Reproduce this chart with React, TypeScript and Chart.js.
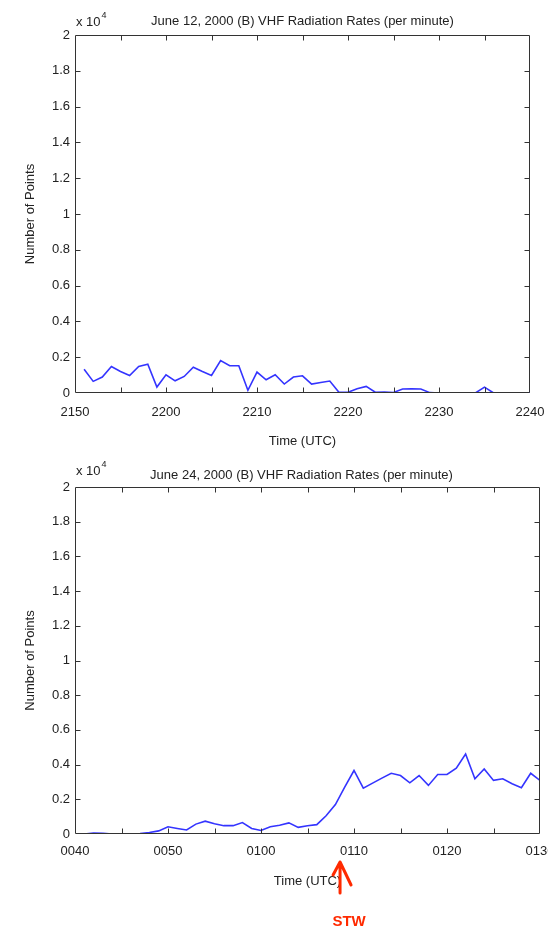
import React, { useEffect, useRef } from "react";
import { Chart, registerables } from "chart.js";

Chart.register(...registerables);

// ---------- data ----------
const TOP_TITLE = "June 12, 2000 (B) VHF Radiation Rates (per minute)";
const BOTTOM_TITLE = "June 24, 2000 (B) VHF Radiation Rates (per minute)";
const Y_TITLE = "Number of Points";
const X_TITLE = "Time (UTC)";
const Y_SCALE_TEXT = "x 10";
const Y_SCALE_EXP = "4";

// axis ranges in minutes since midnight (21:50 -> 22:40, 00:40 -> 01:30)
const TOP_START = 1310;
const TOP_END = 1360;
const BOTTOM_START = 40;
const BOTTOM_END = 90;
const Y_MAX = 20000;
const Y_STEP = 2000;
const X_STEP = 5;
const X_LABEL_EVERY = 10;

// per-minute samples, first sample one minute after the axis start
const TOP_VALUES = [
  1330, 650, 890, 1480, 1200, 980, 1480, 1610, 330, 1020,
  680, 925, 1440, 1200, 980, 1810, 1520, 1520, 150, 1170,
  740, 1020, 500, 890, 960, 500, 590, 670, 40, 40,
  240, 370, 40, 55, 30, 220, 230, 220, 20, 0,
  0, 0, 0, 0, 330, 0, 0, 0, 0, 0,
];
const BOTTOM_VALUES = [
  0, 60, 40, 0, 0, 0, 20, 85, 180, 420,
  320, 230, 570, 740, 590, 480, 480, 660, 320, 200,
  420, 500, 640, 380, 480, 540, 1050, 1700, 2700, 3660,
  2640, 2930, 3220, 3500, 3370, 2950, 3370, 2800, 3430, 3430,
  3800, 4610, 3180, 3750, 3090, 3180, 2900, 2670, 3500, 3090,
];

const STW_LABEL = "STW";
const STW_MINUTE = 68.5;

// ---------- styles ----------
const FONT = '"Liberation Sans", Arial, sans-serif';
const TEXT_COLOR = "#222";
const AXIS_COLOR = "#333";
const LINE_COLOR = "#3434ff";
const RED = "#ff2a00";
const TICK_LEN = 5;
const W = 548;
const H1 = 450;
const H2 = 482;

function hhmm(m: number): string {
  const h = Math.floor(m / 60) % 24;
  const mm = ((m % 60) + 60) % 60;
  return String(h).padStart(2, "0") + String(mm).padStart(2, "0");
}

type Cfg = {
  title: string;
  titleDx: number;
  titleDy: number;
  expDy: number;
  start: number;
  end: number;
  values: number[];
  pad: { top: number; right: number; bottom: number };
  xHeight: number;
  xLabelPad: number;
  stw: boolean;
};

function decor(cfg: Cfg) {
  return {
    id: "decor",
    afterDraw(chart: any) {
      const { ctx, chartArea: a, scales } = chart;
      const xs = scales.x;
      const ys = scales.y;
      ctx.save();
      const L = Math.round(a.left) + 0.5;
      const R = Math.round(a.right) - 0.5;
      const T = Math.round(a.top) + 0.5;
      const B = Math.round(a.bottom) - 0.5;
      ctx.strokeStyle = AXIS_COLOR;
      ctx.lineWidth = 1;
      ctx.beginPath();
      ctx.rect(L, T, R - L, B - T);
      for (const t of xs.ticks) {
        const px = Math.round(xs.getPixelForValue(t.value)) + 0.5;
        if (px <= L + 1 || px >= R - 1) continue;
        ctx.moveTo(px, B);
        ctx.lineTo(px, B - TICK_LEN);
        ctx.moveTo(px, T);
        ctx.lineTo(px, T + TICK_LEN);
      }
      for (const t of ys.ticks) {
        const py = Math.round(ys.getPixelForValue(t.value)) + 0.5;
        if (py <= T + 1 || py >= B - 1) continue;
        ctx.moveTo(L, py);
        ctx.lineTo(L + TICK_LEN, py);
        ctx.moveTo(R, py);
        ctx.lineTo(R - TICK_LEN, py);
      }
      ctx.stroke();

      ctx.fillStyle = TEXT_COLOR;
      ctx.font = `13px ${FONT}`;
      ctx.textAlign = "center";
      ctx.textBaseline = "middle";
      ctx.fillText(cfg.title, (a.left + a.right) / 2 + cfg.titleDx, a.top - cfg.titleDy);

      ctx.textAlign = "left";
      ctx.fillText(Y_SCALE_TEXT, a.left + 1, a.top - cfg.expDy);
      const w = ctx.measureText(Y_SCALE_TEXT).width;
      ctx.font = `9px ${FONT}`;
      ctx.fillText(Y_SCALE_EXP, a.left + 2 + w, a.top - cfg.expDy - 6);

      if (cfg.stw) {
        const px = xs.getPixelForValue(STW_MINUTE);
        const tipY = a.bottom + 28;
        ctx.strokeStyle = RED;
        ctx.lineWidth = 3;
        ctx.lineCap = "round";
        ctx.lineJoin = "round";
        ctx.beginPath();
        ctx.moveTo(px, tipY);
        ctx.lineTo(px, a.bottom + 59);
        ctx.moveTo(px - 7, tipY + 13);
        ctx.lineTo(px, tipY);
        ctx.lineTo(px + 11, tipY + 23);
        ctx.stroke();
        ctx.fillStyle = RED;
        ctx.font = `bold 15px ${FONT}`;
        ctx.textAlign = "center";
        ctx.fillText(STW_LABEL, px + 9, a.bottom + 88);
      }
      ctx.restore();
    },
  };
}

function makeChart(canvas: HTMLCanvasElement, cfg: Cfg) {
  const data = cfg.values.map((v, i) => ({ x: cfg.start + 1 + i, y: v }));
  return new Chart(canvas, {
    type: "line",
    data: {
      datasets: [
        {
          data,
          borderColor: LINE_COLOR,
          borderWidth: 1.6,
          pointRadius: 0,
          tension: 0,
          fill: false,
        },
      ],
    },
    options: {
      animation: false,
      responsive: false,
      devicePixelRatio: 1,
      layout: {
        padding: { left: 0, top: cfg.pad.top, right: cfg.pad.right, bottom: cfg.pad.bottom },
      },
      plugins: {
        legend: { display: false },
        title: { display: false },
        tooltip: { enabled: false },
      },
      scales: {
        x: {
          type: "linear",
          min: cfg.start,
          max: cfg.end,
          grid: { display: false, drawTicks: false },
          border: { display: false },
          ticks: {
            stepSize: X_STEP,
            autoSkip: false,
            maxRotation: 0,
            padding: cfg.xLabelPad,
            color: TEXT_COLOR,
            font: { size: 13, family: FONT },
            callback: (v: any) => (Number(v) % X_LABEL_EVERY === 0 ? hhmm(Number(v)) : ""),
          },
          title: {
            display: true,
            text: X_TITLE,
            color: TEXT_COLOR,
            font: { size: 13, family: FONT },
            padding: { top: 0, bottom: 0 },
          },
          afterFit: (s: any) => {
            s.height = cfg.xHeight;
            s.paddingLeft = 0;
            s.paddingRight = 0;
          },
        },
        y: {
          type: "linear",
          min: 0,
          max: Y_MAX,
          grid: { display: false, drawTicks: false },
          border: { display: false },
          ticks: {
            stepSize: Y_STEP,
            padding: 5,
            color: TEXT_COLOR,
            font: { size: 13, family: FONT },
            callback: (v: any) => String(Math.round(Number(v) / 1000) / 10),
          },
          title: {
            display: true,
            text: Y_TITLE,
            color: TEXT_COLOR,
            font: { size: 13, family: FONT },
            padding: { top: 23, bottom: 0 },
          },
          afterFit: (s: any) => {
            s.width = 75;
            s.paddingTop = 0;
            s.paddingBottom = 0;
          },
        },
      },
    },
    plugins: [decor(cfg) as any],
  });
}

export default function App() {
  const topRef = useRef<HTMLCanvasElement>(null);
  const botRef = useRef<HTMLCanvasElement>(null);

  useEffect(() => {
    const c1 = makeChart(topRef.current!, {
      title: TOP_TITLE,
      titleDx: 0,
      titleDy: 14,
      expDy: 13,
      start: TOP_START,
      end: TOP_END,
      values: TOP_VALUES,
      pad: { top: 35, right: W - 530, bottom: H1 - 393 - 56 },
      xHeight: 56,
      xLabelPad: 12,
      stw: false,
    });
    const c2 = makeChart(botRef.current!, {
      title: BOTTOM_TITLE,
      titleDx: -6,
      titleDy: 12,
      expDy: 16,
      start: BOTTOM_START,
      end: BOTTOM_END,
      values: BOTTOM_VALUES,
      pad: { top: 487 - H1, right: W - 540, bottom: H2 - (834 - H1) - 55 },
      xHeight: 55,
      xLabelPad: 10,
      stw: true,
    });
    return () => {
      c1.destroy();
      c2.destroy();
    };
  }, []);

  return (
    <div style={{ position: "absolute", left: 0, top: 0, width: W, height: H1 + H2, background: "#fff" }}>
      <canvas ref={topRef} width={W} height={H1} style={{ display: "block", width: W, height: H1 }} />
      <canvas ref={botRef} width={W} height={H2} style={{ display: "block", width: W, height: H2 }} />
    </div>
  );
}
